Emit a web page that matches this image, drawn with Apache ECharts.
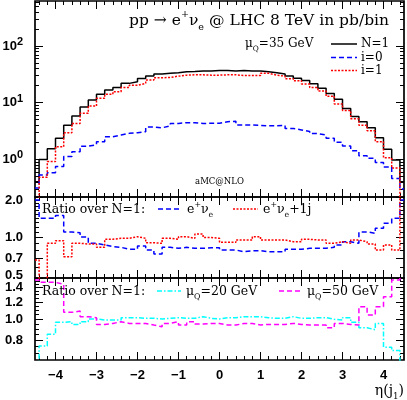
<!DOCTYPE html>
<html>
<head>
<meta charset="utf-8">
<script src="https://cdn.jsdelivr.net/npm/echarts@6.0.0/dist/echarts.min.js"></script>
<style>
  html, body { margin: 0; padding: 0; background: #fff; }
  #chart { width: 407px; height: 400px; }
</style>
</head>
<body>
<div id="chart"></div>
<script>
// bin edges in eta(j1), first and last bins are cut by the frame
const binEdges = [-4.5, -4.4, -4.2, -4.0, -3.8, -3.6, -3.4, -3.2, -3.0, -2.8, -2.6, -2.4, -2.2, -2.0, -1.8, -1.6,
  -1.4, -1.2, -1.0, -0.8, -0.6, -0.4, -0.2, 0.0, 0.2, 0.4, 0.6, 0.8, 1.0, 1.2, 1.4, 1.6, 1.8, 2.0, 2.2, 2.4,
  2.6, 2.8, 3.0, 3.2, 3.4, 3.6, 3.8, 4.0, 4.2, 4.4, 4.5];

const xTicks = [-4, -3, -2, -1, 0, 1, 2, 3, 4];
const xTickLabels = ['−4', '−3', '−2', '−1', '0', '1', '2', '3', '4'];
const xMinorTicks = [-4.4, -4.2, -3.8, -3.6, -3.4, -3.2, -2.8, -2.6, -2.4, -2.2, -1.8, -1.6, -1.4, -1.2,
  -0.8, -0.6, -0.4, -0.2, 0.2, 0.4, 0.6, 0.8, 1.2, 1.4, 1.6, 1.8, 2.2, 2.4, 2.6, 2.8, 3.2, 3.4, 3.6, 3.8, 4.2, 4.4];

// main panel (pb/bin), one value per bin
const sigmaN1 = [0.40, 0.99, 1.54, 2.35, 4.0, 5.8, 8.4, 11.1, 14.0, 16.7, 18.6, 21.9, 23.4, 26.8, 29.4, 31.9,
  32.9, 33.7, 35.1, 35.4, 36.1, 36.1, 36.8, 36.8, 36.1, 36.8, 36.1, 36.1, 35.1, 33.7, 31.9, 29.4, 27.0, 24.5,
  21.5, 18.0, 14.5, 11.5, 7.9, 5.7, 4.6, 3.6, 2.4, 1.5, 0.97, 0.40];
const sigmaI0 = [0.31, 0.53, 0.58, 0.75, 1.12, 1.36, 1.7, 1.8, 2.05, 2.5, 2.68, 2.87, 2.94, 3.07, 3.7, 3.6,
  3.9, 4.3, 4.42, 4.42, 4.3, 4.31, 4.31, 4.6, 4.7, 4.03, 4.03, 3.95, 3.9, 3.9, 3.95, 3.5, 3.3, 3.1, 2.85, 2.68,
  2.35, 2.0, 1.72, 1.42, 1.15, 1.04, 0.88, 0.73, 0.46, 0.30];
const sigmaI1 = [0.1, 0.48, 0.91, 1.67, 2.94, 4.3, 6.5, 8.7, 11.9, 14.0, 15.6, 18.6, 20.2, 21.9, 25.0, 27.5,
  27.9, 29.4, 30.6, 31.0, 31.0, 30.6, 30.6, 31.0, 31.0, 30.2, 30.2, 30.2, 32.9, 30.6, 29.4, 26.5, 24.4, 21.3,
  18.5, 16.0, 13.0, 9.5, 7.3, 5.2, 4.0, 3.2, 2.04, 1.06, 0.7, 0.1];

// ratio panels (over N=1)
const ratioEv = [1.90, 1.39, 1.39, 1.46, 1.10, 1.085, 1.01, 0.905, 0.88, 0.855, 0.845, 0.817, 0.817, 0.864,
  0.807, 0.754, 0.845, 0.831, 0.845, 0.831, 0.831, 0.84, 0.84, 0.807, 0.807, 0.784, 0.797, 0.797, 0.784, 0.784,
  0.784, 0.817, 0.817, 0.831, 0.831, 0.831, 0.845, 0.88, 0.93, 0.905, 1.10, 1.075, 1.17, 1.275, 1.39, 1.90];
const ratioEvJ = [0.68, 0.4, 0.905, 0.947, 0.72, 0.905, 0.895, 0.895, 0.845, 0.97, 0.986, 0.986, 1.014, 0.986,
  0.915, 0.905, 0.986, 0.97, 1.014, 0.986, 1.06, 1.0, 0.986, 0.92, 0.92, 0.958, 0.958, 1.014, 0.958, 0.958,
  0.958, 0.93, 0.93, 0.97, 0.958, 0.958, 0.905, 0.93, 0.905, 0.958, 0.93, 0.895, 0.807, 0.88, 0.807, 3.0];
const ratioMu20 = [0.55, 0.754, 0.853, 0.969, 0.975, 0.948, 0.975, 1.004, 0.993, 0.993, 0.993, 1.018, 1.018,
  1.011, 1.011, 1.004, 1.011, 1.018, 1.011, 1.011, 1.029, 1.011, 1.004, 1.018, 1.018, 1.029, 1.029, 1.029,
  1.018, 1.011, 1.011, 1.029, 1.011, 1.011, 1.018, 1.018, 1.0, 0.993, 1.018, 0.969, 0.914, 0.896, 0.958,
  0.744, 0.718, 0.55];
const ratioMu50 = [1.517, 1.48, 1.48, 1.45, 1.077, 1.092, 1.029, 1.018, 0.948, 0.958, 0.975, 0.958, 0.958,
  0.958, 0.941, 0.925, 0.958, 0.975, 0.941, 0.975, 0.951, 0.958, 0.958, 0.941, 0.941, 0.958, 0.958, 0.941,
  0.948, 0.948, 0.948, 0.958, 0.948, 0.941, 0.941, 0.941, 0.914, 0.958, 0.948, 0.941, 1.144, 1.047, 1.144,
  1.272, 1.517, 1.6];

// y scales and tick marks
const mainRange = [0.216, 623];
const mainTicks = [1, 10, 100];
const mainTickExp = ['0', '1', '2'];
const mainMinor = [0.3, 0.4, 0.5, 0.6, 0.7, 0.8, 0.9, 2, 3, 4, 5, 6, 7, 8, 9, 20, 30, 40, 50, 60, 70, 80, 90,
  200, 300, 400, 500, 600];
const ratio1Range = [0.5, 2.0];
const ratio1Ticks = [0.5, 0.7, 1.0, 2.0];
const ratio1Labels = ['0.5', '0.7', '1.0', '2.0'];
const ratio1Minor = [0.6, 0.8, 0.9, 1.1, 1.2, 1.3, 1.4, 1.5, 1.6, 1.7, 1.8, 1.9];
const ratio2Range = [0.65, 1.55];
const ratio2Ticks = [0.8, 1.0, 1.2, 1.4];
const ratio2Labels = ['0.8', '1.0', '1.2', '1.4'];
const ratio2Minor = [0.7, 0.75, 0.85, 0.9, 0.95, 1.05, 1.1, 1.15, 1.25, 1.3, 1.35, 1.45, 1.5];

const SERIF = "'DejaVu Serif', 'Liberation Serif', serif";
const SANS = "'Liberation Sans', Arial, sans-serif";

let chart = echarts.init(document.getElementById('chart'));

const findIdx = (arr, v) => arr.findIndex(t => Math.abs(Math.log10(t) - v) < 1e-6);
const numStyle = { fontFamily: SANS, fontWeight: 'bold', fontSize: 13, color: '#000' };

const panels = [
  {
    top: 1, height: 196, range: mainRange, ticks: mainTicks, minor: mainMinor,
    fmt: v => '{b|10}{s|' + mainTickExp[findIdx(mainTicks, v)] + '}'
  },
  {
    top: 197, height: 81, range: ratio1Range, ticks: ratio1Ticks, minor: ratio1Minor,
    fmt: v => {
      const i = findIdx(ratio1Ticks, v);
      const st = ratio1Ticks[i] === ratio1Range[1] ? 'dn' : (ratio1Ticks[i] === ratio1Range[0] ? 'up' : 't');
      return '{' + st + '|' + ratio1Labels[i] + '}';
    }
  },
  {
    top: 278, height: 82, range: ratio2Range, ticks: ratio2Ticks, minor: ratio2Minor,
    fmt: v => '{t|' + ratio2Labels[findIdx(ratio2Ticks, v)] + '}'
  }
];

const grids = [], xAxes = [], yAxes = [], series = [];
const dataX = [], dataY = [];

function tickAxis(list, gi, position, min, max, values, length, label) {
  list.push({
    type: 'value', gridIndex: gi, position: position, offset: 0, min: min, max: max,
    axisLine: { show: false, onZero: false }, splitLine: { show: false }, axisPointer: { show: false },
    axisTick: { show: true, inside: true, length: length, customValues: values, lineStyle: { color: '#000', width: 1 } },
    axisLabel: label || { show: false }
  });
}

panels.forEach((p, gi) => {
  grids.push({
    left: 35, top: p.top, width: 369, height: p.height, show: true,
    borderColor: '#000', borderWidth: 1.7, backgroundColor: 'transparent', outerBoundsMode: 'none'
  });

  // axes carrying the data
  dataX.push(xAxes.length);
  xAxes.push({ type: 'value', gridIndex: gi, min: -4.5, max: 4.5, show: false, axisLine: { onZero: false } });
  dataY.push(yAxes.length);
  yAxes.push({ type: 'log', logBase: 10, gridIndex: gi, min: p.range[0], max: p.range[1], show: false, axisLine: { onZero: false } });

  // x tick marks, top and bottom
  let xLabel = null;
  if (gi === 2) {
    xLabel = Object.assign({
      show: true, customValues: xTicks, margin: 9, showMinLabel: true, showMaxLabel: true,
      formatter: v => xTickLabels[xTicks.indexOf(Math.round(v))]
    }, numStyle);
  }
  tickAxis(xAxes, gi, 'bottom', -4.5, 4.5, xTicks, 8, xLabel);
  tickAxis(xAxes, gi, 'bottom', -4.5, 4.5, xMinorTicks, 4);
  tickAxis(xAxes, gi, 'top', -4.5, 4.5, xTicks, 8);
  tickAxis(xAxes, gi, 'top', -4.5, 4.5, xMinorTicks, 4);

  // y tick marks drawn on a log10 value axis matching the log scale
  const lo = Math.log10(p.range[0]), hi = Math.log10(p.range[1]);
  const major = p.ticks.map(Math.log10), minor = p.minor.map(Math.log10);
  const yLabel = Object.assign({
    show: true, customValues: major, margin: 12, showMinLabel: true, showMaxLabel: true,
    formatter: p.fmt,
    rich: {
      t: Object.assign({}, numStyle),
      dn: Object.assign({ padding: [7, 0, 0, 0] }, numStyle),
      up: Object.assign({ padding: [0, 0, 5, 0] }, numStyle),
      b: Object.assign({ lineHeight: 19 }, numStyle),
      s: Object.assign({}, numStyle, { fontSize: 11, lineHeight: 11, verticalAlign: 'top' })
    }
  }, numStyle);
  tickAxis(yAxes, gi, 'left', lo, hi, major, 8, yLabel);
  tickAxis(yAxes, gi, 'left', lo, hi, minor, 4);
  tickAxis(yAxes, gi, 'right', lo, hi, major, 8);
  tickAxis(yAxes, gi, 'right', lo, hi, minor, 4);
});

function histData(vals) {
  return binEdges.map((e, i) => [e, vals[Math.min(i, vals.length - 1)]]);
}

function hist(gi, vals, color, dash) {
  return {
    type: 'line', xAxisIndex: dataX[gi], yAxisIndex: dataY[gi], data: histData(vals),
    step: 'end', symbol: 'none', silent: true, clip: true, z: 3,
    lineStyle: { color: color, width: 1.5, type: dash }
  };
}

series.push(hist(0, sigmaN1, '#000000', 'solid'));
series.push(hist(0, sigmaI0, '#0000ff', [5, 3]));
series.push(hist(0, sigmaI1, '#ff0000', [2, 1.5]));
series.push(hist(1, ratioEv, '#0000ff', [5, 3]));
series.push(hist(1, ratioEvJ, '#ff0000', [2, 1.5]));
series.push(hist(2, ratioMu20, '#00ffff', [5, 2, 1.5, 2]));
series.push(hist(2, ratioMu50, '#ff00ff', [5, 3]));

// text with super/subscripts
function richFor(s) {
  const small = Math.round(s * 0.62 * 10) / 10;
  return {
    n: { fontFamily: SERIF, fontSize: s, lineHeight: s * 1.5, verticalAlign: 'middle', fill: '#000' },
    u: { fontFamily: SERIF, fontSize: small, lineHeight: small, verticalAlign: 'top', fill: '#000' },
    d: { fontFamily: SERIF, fontSize: small, lineHeight: s * 0.9, verticalAlign: 'bottom', fill: '#000' }
  };
}
function label(x, y, str, size, align) {
  return {
    type: 'text', x: x, y: y, silent: true, z: 10,
    style: { text: str, align: align || 'left', verticalAlign: 'middle', fill: '#000',
      fontFamily: SERIF, fontSize: size, rich: richFor(size) }
  };
}
function sample(x1, x2, y, color, dash) {
  return {
    type: 'line', silent: true, z: 10, shape: { x1: x1, y1: y, x2: x2, y2: y },
    style: { stroke: color, lineWidth: 1.5, lineDash: dash }
  };
}

const graphics = [
  label(389, 21, '{n|pp → e}{u|+}{n|ν}{d|e}{n| @ LHC 8 TeV in pb/bin}', 15.5, 'right'),
  label(245, 44, '{n|μ}{d|Q}{n|=35 GeV}', 12),
  sample(331, 357, 44, '#000000', null),
  label(361, 44, '{n|N=1}', 12),
  sample(331, 357, 57.5, '#0000ff', [5, 3]),
  label(361, 57.5, '{n|i=0}', 12),
  sample(331, 357, 70.5, '#ff0000', [2, 1.5]),
  label(361, 70.5, '{n|i=1}', 12),
  {
    type: 'text', x: 219.5, y: 182, silent: true, z: 10,
    style: { text: 'aMC@NLO', align: 'center', verticalAlign: 'middle', fill: '#000', fontFamily: SERIF, fontSize: 8.5 }
  },
  label(42, 210, '{n|Ratio over N=1:}', 12.5),
  sample(158, 182, 209, '#0000ff', [5, 3]),
  label(187, 210, '{n|e}{u|+}{n|ν}{d|e}', 12.5),
  sample(233, 258, 209, '#ff0000', [2, 1.5]),
  label(263, 210, '{n|e}{u|+}{n|ν}{d|e}{n|+1j}', 12.5),
  label(42, 292, '{n|Ratio over N=1:}', 12.5),
  sample(157, 181, 291, '#00ffff', [5, 2, 1.5, 2]),
  label(186, 292, '{n|μ}{d|Q}{n|=20 GeV}', 12.5),
  sample(279, 302, 291, '#ff00ff', [5, 3]),
  label(307, 292, '{n|μ}{d|Q}{n|=50 GeV}', 12.5),
  label(404, 391, '{n|η(j}{d|1}{n|)}', 14, 'right')
];

chart.setOption({
  animation: false,
  backgroundColor: '#fff',
  tooltip: { show: false },
  grid: grids,
  xAxis: xAxes,
  yAxis: yAxes,
  series: series,
  graphic: graphics
});
</script>
</body>
</html>
